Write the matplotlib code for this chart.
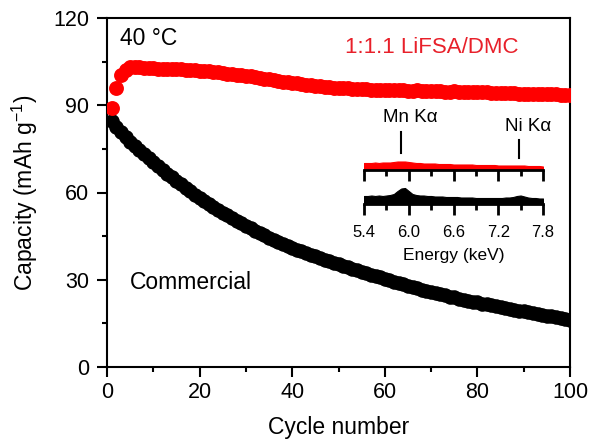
import numpy as np
import matplotlib
matplotlib.use("Agg")
from matplotlib import pyplot as plt

# capacity vs cycle
cycles = list(range(1, 101))
cap_commercial = [
    84.5, 82.6, 80.8, 79.1, 77.5, 76.0, 74.5, 73.1, 71.7, 70.4,
    69.1, 67.8, 66.5, 65.2, 64.0, 62.8, 61.6, 60.4, 59.3, 58.2,
    57.1, 56.1, 55.1, 54.1, 53.1, 52.1, 51.2, 50.3, 49.4, 48.5,
    47.7, 46.9, 46.1, 45.3, 44.5, 43.8, 43.1, 42.4, 41.7, 41.0,
    40.4, 39.8, 39.2, 38.6, 38.0, 37.4, 36.8, 36.3, 35.8, 35.3,
    34.8, 34.3, 33.8, 33.3, 32.8, 32.3, 31.8, 31.3, 30.8, 30.3,
    29.8, 29.3, 28.8, 28.4, 27.9, 27.5, 27.0, 26.6, 26.1, 25.7,
    25.3, 25.0, 24.6, 24.2, 23.9, 23.5, 23.2, 22.8, 22.5, 22.2,
    21.8, 21.5, 21.2, 20.9, 20.6, 20.3, 20.0, 19.7, 19.4, 19.1,
    18.8, 18.5, 18.2, 17.9, 17.6, 17.4, 17.1, 16.8, 16.5, 16.3]
cap_lifsa = [
    89.0, 96.0, 100.5, 102.2, 103.0, 103.2, 103.1, 102.9, 102.8, 102.7,
    102.6, 102.5, 102.5, 102.4, 102.3, 102.3, 102.2, 102.1, 102.0, 101.9,
    101.8, 101.7, 101.5, 101.3, 101.1, 100.9, 100.7, 100.5, 100.3, 100.1,
    99.9, 99.6, 99.4, 99.1, 98.9, 98.6, 98.4, 98.1, 97.9, 97.7,
    97.5, 97.3, 97.1, 96.9, 96.7, 96.5, 96.4, 96.2, 96.1, 96.0,
    95.9, 95.8, 95.7, 95.6, 95.6, 95.5, 95.4, 95.4, 95.3, 95.3,
    95.2, 95.2, 95.1, 95.1, 95.0, 95.0, 95.3, 95.0, 94.9, 94.9,
    94.8, 94.8, 94.7, 94.7, 94.9, 94.6, 94.6, 94.5, 94.5, 94.4,
    94.4, 94.6, 94.3, 94.3, 94.2, 94.2, 94.1, 94.1, 94.0, 94.0,
    94.0, 93.9, 93.9, 93.8, 93.8, 93.7, 93.7, 93.6, 93.6, 93.5]

# EDS inset, counts in arbitrary units
energy = [round(5.4 + 0.05 * i, 2) for i in range(49)]
eds_lifsa = [
    7, 7, 7, 7.5, 7, 7.5, 7.5, 7.5, 8, 8.5,
    8.5, 8.5, 8, 7.5, 7, 7, 6.5, 6.5, 6.5, 6.5,
    6, 6, 6, 6, 5.5, 5.5, 5.5, 5.5, 5.5, 5.5,
    5, 5, 5, 5, 5, 5, 4.5, 4.5, 4.5, 4.5,
    4.5, 4.5, 4.5, 4.5, 4, 4, 4, 4, 3.5]
eds_commercial = [
    8, 8, 8.5, 8, 8.5, 8, 8.5, 9, 10, 13,
    15.5, 16, 13, 10, 9, 8.5, 8.5, 8, 8, 7.5,
    7.5, 7.5, 7, 7, 7, 7, 6.5, 6.5, 6.5, 6.5,
    6, 6, 6, 6, 6, 6, 6, 6, 6.5, 6.5,
    7, 8, 8.5, 7.5, 6.5, 6, 6, 5.5, 5.5]
peak_names = ["Mn Kα", "Ni Kα"]
peak_energy = [5.9, 7.48]

plt.rcParams.update({
    "font.family": ["Liberation Sans", "DejaVu Sans"],
    "mathtext.fontset": "custom",
    "mathtext.rm": "Liberation Sans",
    "mathtext.it": "Liberation Sans:italic",
    "axes.linewidth": 1.5,
})

fig = plt.figure(figsize=(5.9, 4.43), dpi=100)
ax = fig.add_axes([107 / 590, 76 / 443, 463 / 590, 349 / 443])

ax.scatter(cycles, cap_commercial, s=110, color="black", linewidths=0, zorder=2)
ax.scatter(cycles, cap_lifsa, s=115, color="#ff0000", linewidths=0, zorder=3)

ax.set_xlim(0, 100)
ax.set_ylim(0, 120)
ax.set_xticks(range(0, 101, 20))
ax.set_xticks(range(10, 100, 20), minor=True)
ax.set_yticks(range(0, 121, 30))
ax.set_yticks(range(15, 120, 30), minor=True)
ax.tick_params(which="both", direction="out", width=1.5, labelsize=15.5,
               top=False, right=False)
ax.tick_params(which="major", length=7)
ax.tick_params(axis="x", which="major", pad=4)
ax.tick_params(axis="y", which="major", pad=6)
ax.tick_params(which="minor", length=3.5)
ax.set_xlabel("Cycle number", fontsize=16.5, labelpad=9)
ax.set_ylabel("Capacity (mAh g$^{-1}$)", fontsize=16.5, labelpad=9)

ax.text(2.8, 113, "40 °C", fontsize=16.5, va="center", ha="left")
ax.text(70.2, 110, "1:1.1 LiFSA/DMC", fontsize=16, color="#e8202a",
        va="center", ha="center")
ax.text(5.0, 29.2, "Commercial", fontsize=16.5, va="center", ha="left")

# inset: two stacked EDS spectra
ins_left, ins_w = 364 / 590, 179 / 590
ax_r = fig.add_axes([ins_left, (443 - 170) / 443, ins_w, 16 / 443])
ax_k = fig.add_axes([ins_left, (443 - 204) / 443, ins_w, 20 / 443])

for a, sig, col, hgt in [(ax_r, eds_lifsa, "#ff0000", 16),
                         (ax_k, eds_commercial, "black", 20)]:
    a.fill_between(energy, 0, sig, color=col, linewidth=0.8, edgecolor=col)
    a.set_xlim(5.4, 7.8)
    a.set_ylim(0, hgt)
    a.patch.set_alpha(0)
    for s in ["left", "right", "top"]:
        a.spines[s].set_visible(False)
    a.spines["bottom"].set_linewidth(2)
    a.set_yticks([])
    a.set_xticks([5.4, 6.0, 6.6, 7.2, 7.8])
    a.set_xticks([5.7, 6.3, 6.9, 7.5], minor=True)
    a.tick_params(which="both", direction="out", width=2, labelsize=12,
                  pad=7)
    a.tick_params(which="major", length=8)
    a.tick_params(which="minor", length=4.5)

ax_r.set_xticklabels([])
ax_k.set_xticklabels(["5.4", "6.0", "6.6", "7.2", "7.8"])
ax_k.set_xlabel("Energy (keV)", fontsize=12.5, labelpad=6)

line_spans = [(17, 38), (12, 30)]
text_y = [52, 43]
for name, e, (y0, y1), ty in zip(peak_names, peak_energy, line_spans, text_y):
    ax_r.plot([e, e], [y0, y1], color="black", linewidth=1.5, clip_on=False)
    ax_r.text(e + 0.12, ty, name, fontsize=13.5, ha="center", va="center",
              clip_on=False)

fig.savefig("out.png", dpi=100)
